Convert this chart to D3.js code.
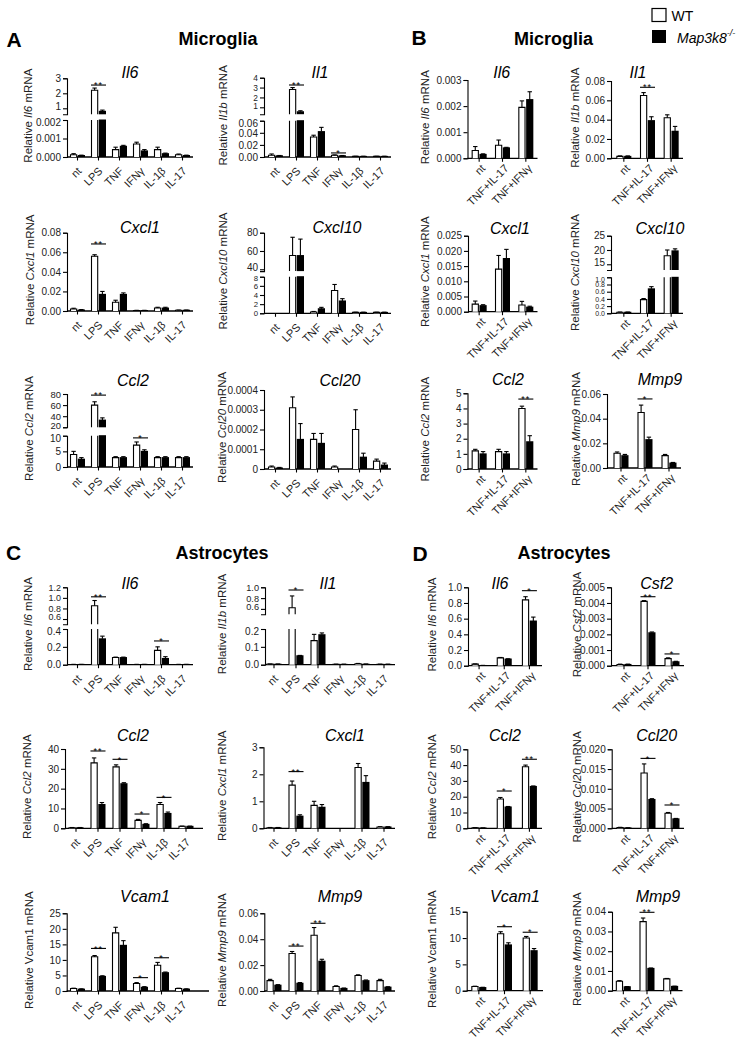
<!DOCTYPE html>
<html><head><meta charset="utf-8">
<script src="https://cdn.jsdelivr.net/npm/d3@7"></script>
<style>body{margin:0;background:#fff}svg{display:block}</style>
</head><body><svg id="c" width="747" height="1049"></svg>
<script>
// ---------- categories ----------
const catsSingle = ["nt","LPS","TNF","IFNγ","IL-1β","IL-17"];
const catsCombo  = ["nt","TNF+IL-17","TNF+IFNγ"];

// ---------- Panel A (microglia, single stimuli) ----------
const A_Il6_wt    = [0.00012, 2.2, 0.0004, 0.0007, 0.0004, 0.00012];
const A_Il6_wtErr = [0.00006, 0.15, 0.00013, 0.0001, 0.00013, 0.00004];
const A_Il6_ko    = [0.00008, 0.8, 0.00058, 0.00033, 0.00018, 0.00008];
const A_Il6_koErr = [0.00002, 0.08, 0.00005, 0.00007, 0.00003, 0.00002];
const A_Il6_ticks = [["0.000","0.001","0.002"],["1","2","3"]];
const A_Il6_sig   = [[1, 2.55, "**"]];

const A_Il1_wt    = [0.003, 2.8, 0.033, 0.003, 0.001, 0.001];
const A_Il1_wtErr = [0.002, 0.2, 0.003, 0.0005, 0.0003, 0.0003];
const A_Il1_ko    = [0.002, 0.55, 0.042, 0.002, 0.001, 0.001];
const A_Il1_koErr = [0.0005, 0.1, 0.007, 0.0005, 0.0003, 0.0003];
const A_Il1_ticks = [["0.00","0.02","0.04","0.06"],["1","2","3","4"]];
const A_Il1_sig   = [[1, 3.26, "**"], [3, 0.0067, "*"]];

const A_Cxcl1_wt    = [0.002, 0.056, 0.009, 0.0005, 0.003, 0.0008];
const A_Cxcl1_wtErr = [0.0008, 0.0015, 0.002, 0.0002, 0.0008, 0.0002];
const A_Cxcl1_ko    = [0.001, 0.017, 0.017, 0.0005, 0.003, 0.0008];
const A_Cxcl1_koErr = [0.0005, 0.003, 0.0015, 0.0002, 0.0008, 0.0002];
const A_Cxcl1_ticks = [["0.00","0.02","0.04","0.06","0.08"]];
const A_Cxcl1_sig   = [[1, 0.0685, "**"]];

const A_Cxcl10_wt    = [0, 55, 0.3, 5, 0.2, 0.2];
const A_Cxcl10_wtErr = [0, 20, 0.1, 1.3, 0.05, 0.05];
const A_Cxcl10_ko    = [0, 55, 1.0, 2.7, 0.2, 0.2];
const A_Cxcl10_koErr = [0, 18, 0.3, 0.5, 0.05, 0.05];
const A_Cxcl10_ticks = [["0","2","4","6","8"],["40","60","80"]];
const A_Cxcl10_sig   = [];

const A_Ccl2_wt    = [4, 60, 3, 7, 3, 3];
const A_Ccl2_wtErr = [1, 6, 0.3, 1, 0.3, 0.3];
const A_Ccl2_ko    = [2.5, 33, 3, 5, 3, 3];
const A_Ccl2_koErr = [0.5, 4, 0.3, 0.5, 0.3, 0.3];
const A_Ccl2_ticks = [["0","5","10"],["20","40","60","80"]];
const A_Ccl2_sig   = [[1, 78, "**"], [3, 9.3, "*"]];

const A_Ccl20_wt    = [0.00001, 0.00031, 0.00015, 0.00001, 0.0002, 0.00004];
const A_Ccl20_wtErr = [0.000005, 0.000055, 0.00003, 0.000005, 0.0001, 0.00001];
const A_Ccl20_ko    = [0.000005, 0.00015, 0.00013, 0, 0.00006, 0.00002];
const A_Ccl20_koErr = [0.000003, 0.00008, 0.00005, 0, 0.00002, 0.00001];
const A_Ccl20_ticks = [["0","0.0001","0.0002","0.0003","0.0004"]];
const A_Ccl20_sig   = [];

// ---------- Panel B (microglia, combinations) ----------
const B_Il6_wt    = [0.0003, 0.0005, 0.00195];
const B_Il6_wtErr = [0.00015, 0.0002, 0.00025];
const B_Il6_ko    = [0.00015, 0.0004, 0.00225];
const B_Il6_koErr = [0.00002, 0.00002, 0.0003];
const B_Il6_ticks = [["0.000","0.001","0.002","0.003"]];
const B_Il6_sig   = [];

const B_Il1_wt    = [0.002, 0.065, 0.042];
const B_Il1_wtErr = [0.0005, 0.003, 0.003];
const B_Il1_ko    = [0.002, 0.039, 0.028];
const B_Il1_koErr = [0.0005, 0.004, 0.005];
const B_Il1_ticks = [["0.00","0.02","0.04","0.06","0.08"]];
const B_Il1_sig   = [[1, 0.0735, "**"]];

const B_Cxcl1_wt    = [0.0025, 0.014, 0.0022];
const B_Cxcl1_wtErr = [0.001, 0.0045, 0.0012];
const B_Cxcl1_ko    = [0.002, 0.0175, 0.0015];
const B_Cxcl1_koErr = [0.0003, 0.003, 0.0003];
const B_Cxcl1_ticks = [["0.000","0.005","0.010","0.015","0.020","0.025"]];
const B_Cxcl1_sig   = [];

const B_Cxcl10_wt    = [0.03, 0.38, 18];
const B_Cxcl10_wtErr = [0.005, 0.03, 2];
const B_Cxcl10_ko    = [0.03, 0.68, 19.7];
const B_Cxcl10_koErr = [0.005, 0.06, 0.7];
const B_Cxcl10_ticks = [["0.0","0.2","0.4","0.6","0.8","1.0"],["15","20","25"]];
const B_Cxcl10_sig   = [];

const B_Ccl2_wt    = [1.2, 1.15, 4.0];
const B_Ccl2_wtErr = [0.1, 0.15, 0.15];
const B_Ccl2_ko    = [1.0, 1.0, 1.8];
const B_Ccl2_koErr = [0.15, 0.15, 0.4];
const B_Ccl2_ticks = [["0","1","2","3","4","5"]];
const B_Ccl2_sig   = [[2, 4.62, "**"]];

const B_Mmp9_wt    = [0.012, 0.045, 0.01];
const B_Mmp9_wtErr = [0.001, 0.006, 0.001];
const B_Mmp9_ko    = [0.01, 0.023, 0.004];
const B_Mmp9_koErr = [0.001, 0.002, 0.0005];
const B_Mmp9_ticks = [["0.00","0.02","0.04","0.06"]];
const B_Mmp9_sig   = [[1, 0.056, "*"]];

// ---------- Panel C (astrocytes, single stimuli) ----------
const C_Il6_wt    = [0.003, 0.85, 0.08, 0.003, 0.16, 0.003];
const C_Il6_wtErr = [0.001, 0.1, 0.005, 0.001, 0.04, 0.001];
const C_Il6_ko    = [0.003, 0.29, 0.08, 0.003, 0.07, 0.003];
const C_Il6_koErr = [0.001, 0.03, 0.005, 0.001, 0.02, 0.001];
const C_Il6_ticks = [["0.0","0.2","0.4"],["0.6","0.8","1.0","1.2"]];
const C_Il6_sig   = [[1, 1.02, "**"], [4, 0.266, "*"]];

const C_Il1_wt    = [0.003, 0.62, 0.135, 0.002, 0.005, 0.002];
const C_Il1_wtErr = [0.001, 0.22, 0.035, 0.001, 0.002, 0.001];
const C_Il1_ko    = [0.003, 0.05, 0.168, 0.002, 0.003, 0.002];
const C_Il1_koErr = [0.001, 0.002, 0.01, 0.001, 0.001, 0.001];
const C_Il1_ticks = [["0.0","0.1","0.2"],["0.6","0.8","1.0"]];
const C_Il1_sig   = [[1, 0.95, "*"]];

const C_Ccl2_wt    = [0.3, 33, 31, 4, 12, 1];
const C_Ccl2_wtErr = [0.1, 2.5, 1, 0.5, 1, 0.1];
const C_Ccl2_ko    = [0.3, 12, 22.5, 2, 7.5, 1];
const C_Ccl2_koErr = [0.1, 1, 0.5, 0.3, 0.7, 0.1];
const C_Ccl2_ticks = [["0","10","20","30","40"]];
const C_Ccl2_sig   = [[1, 39, "**"], [2, 34.8, "*"], [3, 7.2, "*"], [4, 15.6, "*"]];

const C_Cxcl1_wt    = [0.02, 1.6, 0.85, 0, 2.25, 0.05];
const C_Cxcl1_wtErr = [0.01, 0.15, 0.15, 0, 0.15, 0.01];
const C_Cxcl1_ko    = [0.02, 0.45, 0.78, 0, 1.7, 0.05];
const C_Cxcl1_koErr = [0.01, 0.05, 0.1, 0, 0.25, 0.01];
const C_Cxcl1_ticks = [["0","1","2","3"]];
const C_Cxcl1_sig   = [[1, 2.1, "**"]];

const C_Vcam1_wt    = [0.8, 11, 18.7, 2.4, 8.3, 0.8];
const C_Vcam1_wtErr = [0.1, 0.4, 1.8, 0.3, 0.9, 0.1];
const C_Vcam1_ko    = [0.6, 4.7, 14.7, 1.2, 5.9, 0.6];
const C_Vcam1_koErr = [0.1, 0.2, 1.5, 0.2, 0.2, 0.1];
const C_Vcam1_ticks = [["0","5","10","15","20","25"]];
const C_Vcam1_sig   = [[1, 13.7, "**"], [3, 4.3, "*"], [4, 10.7, "*"]];

const C_Mmp9_wt    = [0.008, 0.029, 0.043, 0.0035, 0.012, 0.008];
const C_Mmp9_wtErr = [0.001, 0.0015, 0.006, 0.0005, 0.0005, 0.001];
const C_Mmp9_ko    = [0.0045, 0.006, 0.023, 0.002, 0.008, 0.003];
const C_Mmp9_koErr = [0.0004, 0.0005, 0.0015, 0.0003, 0.0005, 0.0003];
const C_Mmp9_ticks = [["0.00","0.02","0.04","0.06"]];
const C_Mmp9_sig   = [[1, 0.0347, "**"], [2, 0.0523, "**"]];

// ---------- Panel D (astrocytes, combinations) ----------
const D_Il6_wt    = [0.02, 0.1, 0.84];
const D_Il6_wtErr = [0.003, 0.005, 0.04];
const D_Il6_ko    = [0.003, 0.085, 0.57];
const D_Il6_koErr = [0.001, 0.003, 0.05];
const D_Il6_ticks = [["0.0","0.2","0.4","0.6","0.8","1.0"]];
const D_Il6_sig   = [[2, 0.957, "*"]];

const D_Csf2_wt    = [0.00008, 0.0041, 0.00045];
const D_Csf2_wtErr = [0.00002, 0.00005, 0.00005];
const D_Csf2_ko    = [0.00008, 0.0021, 0.00025];
const D_Csf2_koErr = [0.00002, 0.00005, 0.00003];
const D_Csf2_ticks = [["0.000","0.001","0.002","0.003","0.004","0.005"]];
const D_Csf2_sig   = [[1, 0.0044, "**"], [2, 0.00075, "*"]];

const D_Ccl2_wt    = [0.3, 18.5, 39];
const D_Ccl2_wtErr = [0.1, 1, 1];
const D_Ccl2_ko    = [0.2, 13.5, 26.5];
const D_Ccl2_koErr = [0.05, 0.3, 0.3];
const D_Ccl2_ticks = [["0","10","20","30","40","50"]];
const D_Ccl2_sig   = [[1, 23.6, "*"], [2, 43.7, "**"]];

const D_Ccl20_wt    = [0.0002, 0.014, 0.0038];
const D_Ccl20_wtErr = [0.00005, 0.0023, 0.0002];
const D_Ccl20_ko    = [0.0001, 0.0073, 0.0024];
const D_Ccl20_koErr = [0.00003, 0.0002, 0.0001];
const D_Ccl20_ticks = [["0.000","0.005","0.010","0.015","0.020"]];
const D_Ccl20_sig   = [[1, 0.0177, "*"], [2, 0.0059, "*"]];

const D_Vcam1_wt    = [0.8, 10.8, 10];
const D_Vcam1_wtErr = [0.05, 0.4, 0.3];
const D_Vcam1_ko    = [0.6, 8.7, 7.6];
const D_Vcam1_koErr = [0.05, 0.4, 0.4];
const D_Vcam1_ticks = [["0","5","10","15"]];
const D_Vcam1_sig   = [[1, 12.15, "*"], [2, 11.1, "*"]];

const D_Mmp9_wt    = [0.0048, 0.035, 0.006];
const D_Mmp9_wtErr = [0.0003, 0.0018, 0.0002];
const D_Mmp9_ko    = [0.002, 0.0113, 0.0022];
const D_Mmp9_koErr = [0.0001, 0.0002, 0.0001];
const D_Mmp9_ticks = [["0.00","0.01","0.02","0.03","0.04"]];
const D_Mmp9_sig   = [[1, 0.0397, "**"]];

// ---------- layout table built from the arrays ----------
function P(prefix, cats, title, gene, lay){
  return Object.assign({cats, title, gene,
    wt: eval(prefix+"_wt"), wtErr: eval(prefix+"_wtErr"),
    ko: eval(prefix+"_ko"), koErr: eval(prefix+"_koErr"),
    ticks: eval(prefix+"_ticks"), sig: eval(prefix+"_sig")}, lay);
}
const plots = [
  P("A_Il6", catsSingle, "Il6", "Il6", {ax:67, band:[67,193], xEnd:193, segs:[{d:[0,0.002], r:[157,120]},{d:[0.6,3], r:[114.3,78.3]}], tx:130, ty:72, lx:28}),
  P("A_Il1", catsSingle, "Il1", "Il1b", {ax:264, band:[265,391], xEnd:391, segs:[{d:[0,0.06], r:[157,120.7]},{d:[0.3,4], r:[114.2,77.7]}], tx:320, ty:72, lx:223}),
  P("A_Cxcl1", catsSingle, "Cxcl1", "Cxcl1", {ax:67, band:[67,193], xEnd:193, segs:[{d:[0,0.08], r:[311,232.7]}], tx:140, ty:227, lx:30}),
  P("A_Cxcl10", catsSingle, "Cxcl10", "Cxcl10", {ax:264, band:[265,391], xEnd:391, segs:[{d:[0,8], r:[313.3,276.7]},{d:[38,80], r:[271.1,232.7]}], tx:337, ty:227, lx:223}),
  P("A_Ccl2", catsSingle, "Ccl2", "Ccl2", {ax:67, band:[67,193], xEnd:193, segs:[{d:[0,10], r:[467,435.7]},{d:[20,80], r:[427.3,394]}], tx:133, ty:380, lx:29}),
  P("A_Ccl20", catsSingle, "Ccl20", "Ccl20", {ax:264, band:[265,391], xEnd:391, segs:[{d:[0,0.0004], r:[469,390]}], tx:340, ty:380, lx:222}),

  P("B_Il6", catsCombo, "Il6", "Il6", {ax:467.5, band:[467.5,537.5], xEnd:537.5, segs:[{d:[0,0.003], r:[158.3,80]}], tx:501.7, ty:72.7, lx:425}),
  P("B_Il1", catsCombo, "Il1", "Il1b", {ax:611, band:[612,683], xEnd:683, segs:[{d:[0,0.08], r:[158.3,81]}], tx:638, ty:72.7, lx:575}),
  P("B_Cxcl1", catsCombo, "Cxcl1", "Cxcl1", {ax:468, band:[467.5,537.5], xEnd:537.5, segs:[{d:[0,0.025], r:[311.7,235.7]}], tx:510, ty:228.3, lx:425}),
  P("B_Cxcl10", catsCombo, "Cxcl10", "Cxcl10", {ax:611, band:[612,683], xEnd:683, segs:[{d:[0,1], r:[313.3,277.3]},{d:[13,25], r:[270,235.7]}], tx:660, ty:228.3, lx:575}),
  P("B_Ccl2", catsCombo, "Ccl2", "Ccl2", {ax:467.5, band:[467.5,537.5], xEnd:537.5, segs:[{d:[0,5], r:[469,393.3]}], tx:508, ty:379, lx:425}),
  P("B_Mmp9", catsCombo, "Mmp9", "Mmp9", {ax:607, band:[609,681], xEnd:681, segs:[{d:[0,0.06], r:[468,394]}], tx:660, ty:379, lx:576}),

  P("C_Il6", catsSingle, "Il6", "Il6", {ax:67, band:[67,193], xEnd:193, segs:[{d:[0,0.4], r:[664.7,629]},{d:[0.5,1.2], r:[624.3,587.3]}], tx:130, ty:583, lx:28}),
  P("C_Il1", catsSingle, "Il1", "Il1b", {ax:265, band:[263,395], xEnd:395, segs:[{d:[0,0.2], r:[664.7,629]},{d:[0.5,1.0], r:[614.3,587.3]}], tx:328, ty:583, lx:222}),
  P("C_Ccl2", catsSingle, "Ccl2", "Ccl2", {ax:65, band:[65,197], xEnd:203, segs:[{d:[0,40], r:[828.3,749]}], tx:133, ty:735, lx:27}),
  P("C_Cxcl1", catsSingle, "Cxcl1", "Cxcl1", {ax:263.5, band:[263,395], xEnd:395, segs:[{d:[0,3], r:[828.3,747.3]}], tx:345, ty:735, lx:222}),
  P("C_Vcam1", catsSingle, "Vcam1", null, {ax:66.7, band:[67,193], xEnd:209, segs:[{d:[0,25], r:[991,913.3]}], tx:145, ty:896, lx:29}),
  P("C_Mmp9", catsSingle, "Mmp9", "Mmp9", {ax:264.3, band:[263,395], xEnd:395, segs:[{d:[0,0.06], r:[991,913.3]}], tx:340, ty:896, lx:222}),

  P("D_Il6", catsCombo, "Il6", "Il6", {ax:468, band:[466.5,542], xEnd:542, segs:[{d:[0,1], r:[665.7,587.3]}], tx:500, ty:583, lx:431.7}),
  P("D_Csf2", catsCombo, "Csf2", "Csf2", {ax:611, band:[612,684], xEnd:684, segs:[{d:[0,0.005], r:[665.7,587.3]}], tx:656.7, ty:583, lx:576.7}),
  P("D_Ccl2", catsCombo, "Ccl2", "Ccl2", {ax:467.3, band:[466.5,542], xEnd:542, segs:[{d:[0,50], r:[828.3,749.3]}], tx:505, ty:735, lx:431.7}),
  P("D_Ccl20", catsCombo, "Ccl20", "Ccl20", {ax:611.7, band:[612,684], xEnd:684, segs:[{d:[0,0.02], r:[828.3,749.3]}], tx:656.7, ty:735, lx:576.7}),
  P("D_Vcam1", catsCombo, "Vcam1", null, {ax:466.7, band:[466,543], xEnd:543, segs:[{d:[0,15], r:[990.7,911.7]}], tx:515, ty:896.7, lx:431.7}),
  P("D_Mmp9", catsCombo, "Mmp9", "Mmp9", {ax:612, band:[611.5,682.5], xEnd:682.5, segs:[{d:[0,0.04], r:[990.7,911.7]}], tx:658, ty:896.7, lx:576.7})
];

// ---------- drawing ----------
const FONT = '"Liberation Sans", Arial, Helvetica, sans-serif';
const svg = d3.select("#c");
svg.append("rect").attr("width",747).attr("height",1049).attr("fill","#fff");

function drawPlot(p){
  const g = svg.append("g");
  const x = d3.scaleBand().domain(p.cats).range(p.band);
  const bw = 6.2, gap = 1.6;
  const segs = p.segs.map((s,i)=>({d:s.d, r:s.r, sc:d3.scaleLinear().domain(s.d).range(s.r), ticks:p.ticks[i]}));
  const yMap = v => { let s = segs[0]; for (const t of segs) if (v >= t.d[0]) s = t; return s.sc(v); };
  const y0 = segs[0].r[0];
  const yTop = segs[segs.length-1].r[1];
  const broken = segs.length > 1;

  segs.forEach((s,si)=>{
    const tv = s.ticks.map(Number);
    let spacing = 99;
    for (let k=1;k<tv.length;k++) spacing = Math.min(spacing, Math.abs(s.sc(tv[k])-s.sc(tv[k-1])));
    const fs = Math.max(7, Math.min(10, spacing*0.85));
    const axis = d3.axisLeft(s.sc).tickValues(tv)
      .tickFormat((d,i)=>s.ticks[i]).tickSize(4).tickSizeOuter(4).tickPadding(2);
    const a = g.append("g").attr("transform",`translate(${p.ax},0)`).call(axis);
    a.selectAll("text").attr("font-size",fs).attr("font-family",FONT).attr("fill","#222");
    a.selectAll("path,line").attr("stroke","#000").attr("stroke-width",1.1);
    if (broken){
      // keep labels on both sides of the break apart
      a.selectAll(".tick text").attr("dy",(d,i)=>{
        if (si===0 && i===tv.length-1) return "0.55em";
        if (si===segs.length-1 && i===0) return "0.1em";
        return "0.32em";
      });
    }
  });

  // x axis
  g.append("line").attr("x1",p.ax).attr("x2",p.xEnd).attr("y1",y0).attr("y2",y0)
    .attr("stroke","#000").attr("stroke-width",1.3);
  const combo = p.cats.length === 3;
  p.cats.forEach(c=>{
    const cx = x(c)+x.bandwidth()/2;
    g.append("line").attr("x1",cx).attr("x2",cx).attr("y1",y0).attr("y2",y0+3.5)
      .attr("stroke","#000").attr("stroke-width",1.1);
    const ox = combo ? 4 : 2, oy = combo ? 8 : 12;
    g.append("text").attr("transform",`translate(${cx+ox},${y0+oy}) rotate(-45)`)
      .attr("text-anchor","end").attr("dy","0.35em")
      .attr("font-size",11).attr("font-family",FONT).attr("fill","#222").text(c);
  });

  const series = [
    {vals:p.wt, err:p.wtErr, dx:-gap/2-bw, white:true},
    {vals:p.ko, err:p.koErr, dx:gap/2, white:false}
  ];
  p.cats.forEach((c,i)=>{
    const cx = x(c)+x.bandwidth()/2;
    series.forEach(se=>{
      const v = se.vals[i];
      if (!(v>0)) return;
      const x0 = cx+se.dx;
      segs.forEach(s=>{
        const lo = s.d[0], hi = s.d[1];
        if (v <= lo) return;
        const yb = s.sc(lo), yt = s.sc(Math.min(v,hi)), cut = v>hi;
        if (se.white){
          g.append("rect").attr("x",x0).attr("y",yt).attr("width",bw).attr("height",Math.max(0,yb-yt)).attr("fill","#fff");
          g.append("path").attr("d",`M${x0},${yb}V${yt}`+(cut?`M${x0+bw},${yt}`:`H${x0+bw}`)+`V${yb}`)
            .attr("fill","none").attr("stroke","#000").attr("stroke-width",1.1);
        } else {
          g.append("rect").attr("x",x0-0.5).attr("y",yt-0.5).attr("width",bw+1).attr("height",Math.max(0.8,yb-yt+0.5)).attr("fill","#000");
        }
      });
      const e = se.err[i];
      if (e>0){
        const ya = yMap(v), ye = yMap(v+e), xm = x0+bw/2;
        g.append("line").attr("x1",xm).attr("x2",xm).attr("y1",ya).attr("y2",ye).attr("stroke","#000").attr("stroke-width",1.1);
        g.append("line").attr("x1",xm-2.2).attr("x2",xm+2.2).attr("y1",ye).attr("y2",ye).attr("stroke","#000").attr("stroke-width",1.1);
      }
    });
  });

  (p.sig||[]).forEach(([i,v,t])=>{
    const cx = x(p.cats[i])+x.bandwidth()/2, yy = yMap(v);
    g.append("line").attr("x1",cx-gap/2-bw-0.5).attr("x2",cx+gap/2+bw+0.5).attr("y1",yy).attr("y2",yy)
      .attr("stroke","#000").attr("stroke-width",1.1);
    g.append("text").attr("x",cx).attr("y",yy+3.2).attr("text-anchor","middle")
      .attr("font-size",9).attr("font-family",FONT).attr("letter-spacing",1).text(t);
  });

  g.append("text").attr("x",p.tx).attr("y",p.ty).attr("text-anchor","middle").attr("dominant-baseline","central")
    .attr("font-size",16).attr("font-style","italic").attr("font-family",FONT).text(p.title);

  const cy = (y0+yTop)/2 - 2;
  const yl = g.append("text").attr("transform",`translate(${p.lx},${cy}) rotate(-90)`)
    .attr("text-anchor","middle").attr("dominant-baseline","central")
    .attr("font-size",11.5).attr("font-family",FONT).attr("fill","#222");
  if (p.gene){
    yl.append("tspan").text("Relative ");
    yl.append("tspan").attr("font-style","italic").text(p.gene);
    yl.append("tspan").text(" mRNA");
  } else {
    yl.text("Relative " + p.title + " mRNA");
  }
}
plots.forEach(drawPlot);

// panel letters & headings
const heads = [["A",14,39],["B",419,37],["C",13.5,552],["D",420,553]];
heads.forEach(([t,x,y])=> svg.append("text").attr("x",x).attr("y",y).attr("text-anchor","middle")
  .attr("dominant-baseline","central").attr("font-size",21).attr("font-weight","bold").attr("font-family",FONT).text(t));
const sect = [["Microglia",218,39],["Microglia",553.5,39],["Astrocytes",222,553],["Astrocytes",564,553]];
sect.forEach(([t,x,y])=> svg.append("text").attr("x",x).attr("y",y).attr("text-anchor","middle")
  .attr("dominant-baseline","central").attr("font-size",18).attr("font-weight","bold").attr("font-family",FONT).text(t));

// legend
svg.append("rect").attr("x",652).attr("y",8.5).attr("width",14).attr("height",13).attr("fill","#fff").attr("stroke","#000").attr("stroke-width",1.2);
svg.append("text").attr("x",671.5).attr("y",15.5).attr("dominant-baseline","central").attr("font-size",14).attr("font-family",FONT).text("WT");
svg.append("rect").attr("x",652).attr("y",30).attr("width",14).attr("height",13).attr("fill","#000");
const lg = svg.append("text").attr("x",677).attr("y",37.5).attr("dominant-baseline","central").attr("font-size",14).attr("font-family",FONT).attr("font-style","italic");
lg.append("tspan").text("Map3k8");
lg.append("tspan").attr("font-size",9).attr("dy",-5).text("-/-");
</script></body></html>
